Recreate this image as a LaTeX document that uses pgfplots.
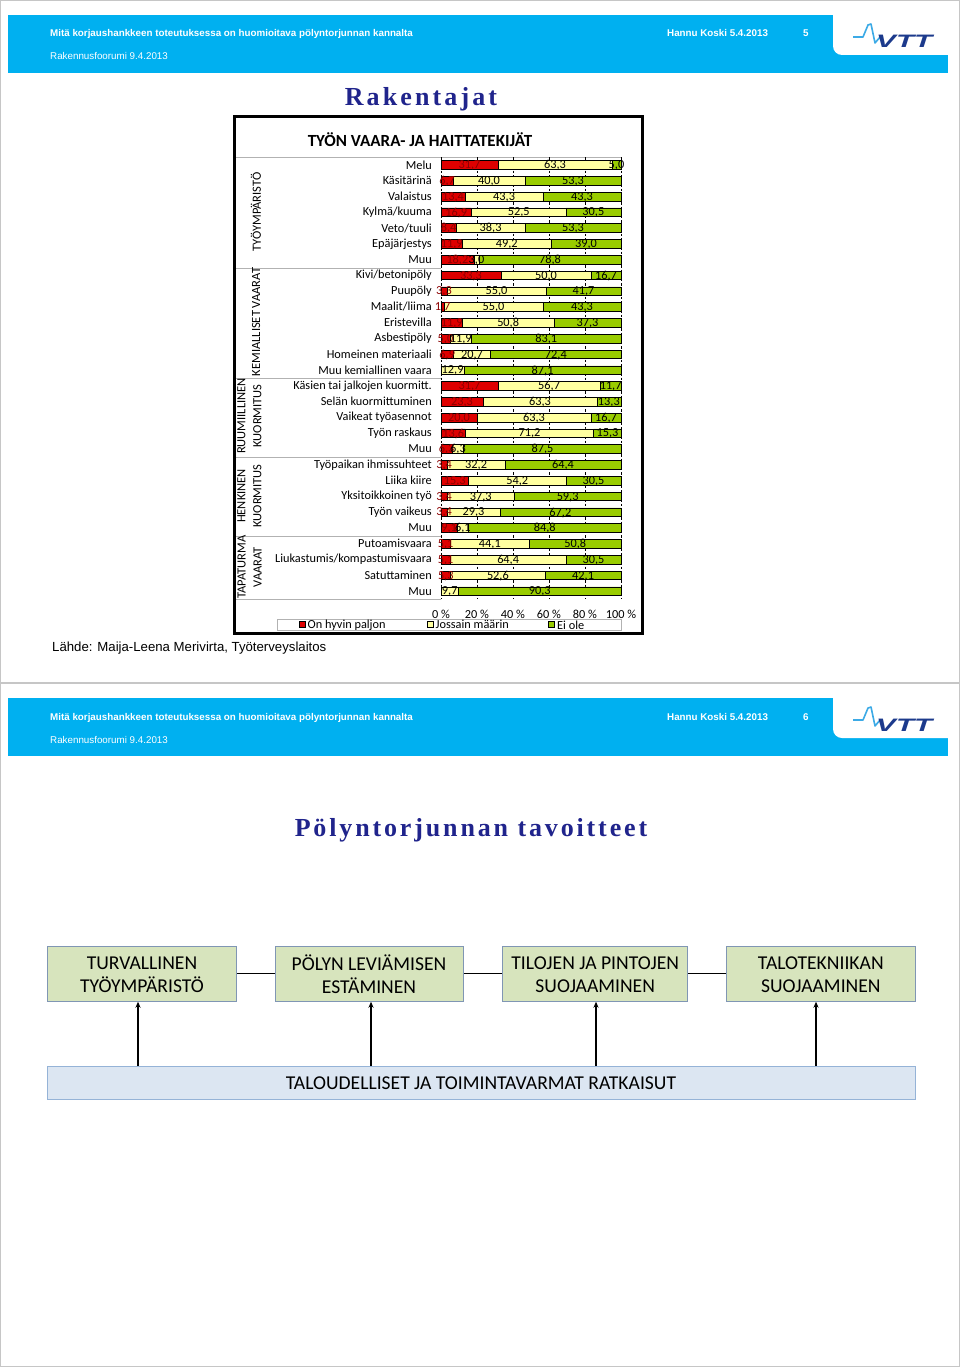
\documentclass[border=0pt]{standalone}
\usepackage{fontspec}
\setmainfont{Carlito}
\newfontfamily\arialf{Liberation Sans}
\newfontfamily\titlef{Liberation Serif}
\usepackage{pgfplots}
\pgfplotsset{compat=1.18}
\usepackage{pgfplotstable}
\usetikzlibrary{arrows.meta}

\definecolor{hdrblue}{RGB}{0,176,240}
\definecolor{navy}{RGB}{32,36,140}
\definecolor{barred}{RGB}{222,0,0}
\definecolor{baryel}{RGB}{255,255,160}
\definecolor{bargrn}{RGB}{153,204,0}
\definecolor{lblred}{RGB}{140,0,0}
\definecolor{boxgrn}{RGB}{215,228,189}
\definecolor{boxgrnline}{RGB}{128,150,180}
\definecolor{boxblue}{RGB}{220,230,242}
\definecolor{boxblueline}{RGB}{149,179,215}
\definecolor{vttdark}{RGB}{28,58,140}
\definecolor{vttlight}{RGB}{60,170,230}

\pgfplotstableread{
row r y g
1 31.7 63.3 5.0
2 6.7 40.0 53.3
3 13.4 43.3 43.3
4 16.9 52.5 30.5
5 8.4 38.3 53.3
6 11.9 49.2 39.0
7 18.2 3.0 78.8
8 33.3 50.0 16.7
9 3.3 55.0 41.7
10 1.7 55.0 43.3
11 11.9 50.8 37.3
12 5.0 11.9 83.1
13 6.9 20.7 72.4
14 0.0 12.9 87.1
15 31.7 56.7 11.7
16 23.3 63.3 13.3
17 20.0 63.3 16.7
18 13.6 71.2 15.3
19 6.3 6.3 87.5
20 3.4 32.2 64.4
21 15.3 54.2 30.5
22 3.4 37.3 59.3
23 3.4 29.3 67.2
24 9.1 6.1 84.8
25 5.1 44.1 50.8
26 5.1 64.4 30.5
27 5.3 52.6 42.1
28 0.0 9.7 90.3
}\data

\newcommand{\hdr}[3]{%
  \fill[hdrblue] (8pt,-#1pt) rectangle (948pt,-#1pt-58pt);
  \fill[white,rounded corners=9pt] (833pt,-#1pt+10pt) rectangle (958pt,-#1pt-40pt);
  \node[anchor=base west,text=white,font=\arialf\bfseries\fontsize{9.8}{10}\selectfont,inner sep=0] at (50pt,-#1pt-22pt) {Mitä korjaushankkeen toteutuksessa on huomioitava pölyntorjunnan kannalta};
  \node[anchor=base west,text=white,font=\arialf\fontsize{9.8}{10}\selectfont,inner sep=0] at (50pt,-#1pt-45pt) {Rakennusfoorumi 9.4.2013};
  \node[anchor=base west,text=white,font=\arialf\bfseries\fontsize{9.8}{10}\selectfont,inner sep=0] at (667pt,-#1pt-#3pt) {Hannu Koski 5.4.2013};
  \node[anchor=base west,text=white,font=\arialf\bfseries\fontsize{9.8}{10}\selectfont,inner sep=0] at (803pt,-#1pt-#3pt) {#2};
  \draw[vttlight,line width=1.6pt,line join=round] (853pt,-#1pt-22pt) -- (863pt,-#1pt-22pt) -- (868pt,-#1pt-10pt) -- (871pt,-#1pt-9pt) -- (875pt,-#1pt-28pt) -- (880pt,-#1pt-22pt);
  \node[anchor=base west,text=vttdark,font=\arialf\bfseries\itshape\fontsize{18}{18}\selectfont,inner sep=0] at (876pt,-#1pt-33pt) {\scalebox{1.65}[1]{VTT}};
}

\begin{document}
\begin{tikzpicture}[x=1pt,y=1pt]
\useasboundingbox (0pt,0pt) rectangle (960pt,-1367pt);
\fill[white] (0pt,0pt) rectangle (960pt,-1367pt);

% headers
\hdr{15}{5}{22}
\hdr{698}{6}{22}

\draw[gray!45,line width=1.2pt] (0.6pt,-0.6pt) rectangle (959.4pt,-1366.4pt);
\draw[gray!45,line width=1.2pt] (0pt,-683pt) -- (960pt,-683pt);

% slide 1 title
\node[text=navy,font=\titlef\bfseries\fontsize{26}{28}\selectfont\addfontfeatures{LetterSpace=12}] at (421pt,-99pt) {Rakentajat};

% chart frame
\draw[line width=3pt] (234pt,-116.5pt) rectangle (642pt,-633pt);
\node[font=\bfseries\fontsize{17}{19}\selectfont] at (420pt,-140pt) {TYÖN VAARA- JA HAITTATEKIJÄT};

% separators
\draw[gray!60,line width=0.7pt] (236pt,-157pt) -- (621pt,-157pt);
\foreach \yy in {268,378,457,536,599} \draw[gray!60,line width=0.7pt] (236pt,-\yy pt) -- (441pt,-\yy pt);

% group labels
\begin{scope}[every node/.style={font=\fontsize{12.5}{16}\selectfont,rotate=90,align=center,inner sep=0}]
\node at (256pt,-212pt) {TYÖYMPÄRISTÖ};
\node at (256pt,-322pt) {KEMIALLISET VAARAT};
\node at (249.5pt,-416pt) {RUUMIILLINEN\\KUORMITUS};
\node at (249.5pt,-496pt) {HENKINEN\\KUORMITUS};
\node at (249.5pt,-567pt) {TAPATURMA\\VAARAT};
\end{scope}

\begin{axis}[
  at={(441pt,-599pt)}, anchor=south west,
  scale only axis, width=180pt, height=442pt,
  xmin=0, xmax=100, ymin=0.5, ymax=28.5, y dir=reverse,
  xbar stacked, bar width=8.6pt,
  axis line style={draw=none},
  major tick length=0pt,
  xtick={0,20,...,100},
  xmajorgrids,
  major grid style={black,dash pattern=on 2.5pt off 2pt,line width=0.5pt},
  ytick={1,...,28},
  yticklabels={Melu,Käsitärinä,Valaistus,Kylmä/kuuma,Veto/tuuli,Epäjärjestys,Muu,Kivi/betonipöly,Puupöly,Maalit/liima,Eristevilla,Asbestipöly,Homeinen materiaali,Muu kemiallinen vaara,Käsien tai jalkojen kuormitt.,Selän kuormittuminen,Vaikeat työasennot,Työn raskaus,Muu,Työpaikan ihmissuhteet,Liika kiire,Yksitoikkoinen työ,Työn vaikeus,Muu,Putoamisvaara,Liukastumis/kompastumisvaara,Satuttaminen,Muu},
  yticklabel style={font=\fontsize{12.3}{13}\selectfont,anchor=east,inner sep=0pt,xshift=-9pt},
  xticklabel={\pgfmathprintnumber[assume math mode=true]{\tick}~\%},
  xticklabel style={font=\fontsize{12.3}{13}\selectfont,anchor=north,inner sep=0pt,yshift=-10.5pt},
  clip=false,
]
\addplot[fill=barred,draw=black,line width=0.5pt] table[x=r,y=row]{\data};
\addplot[fill=baryel,draw=black,line width=0.5pt] table[x=y,y=row]{\data};
\addplot[fill=bargrn,draw=black,line width=0.5pt] table[x=g,y=row]{\data};
\end{axis}

\begin{axis}[
  at={(441pt,-599pt)}, anchor=south west,
  scale only axis, width=180pt, height=442pt,
  xmin=0, xmax=100, ymin=0.5, ymax=28.5, y dir=reverse,
  hide axis, clip=false,
  point meta=explicit,
  nodes near coords={\pgfmathprintnumber[fixed,fixed zerofill,precision=1,use comma,assume math mode=true]{\pgfplotspointmeta}},
  nodes near coords align={center},
  every node near coord/.append style={font=\fontsize{12.3}{13}\selectfont,inner sep=0pt,anchor=center,yshift=-0.5pt},
]
\addplot[only marks,mark=none,restrict x to domain=0.01:200,every node near coord/.append style={text=lblred}] table[x expr=\thisrow{r}/2,y=row,meta=r]{\data};
\addplot[only marks,mark=none] table[x expr=\thisrow{r}+\thisrow{y}/2,y=row,meta=y]{\data};
\addplot[only marks,mark=none] table[x expr=\thisrow{r}+\thisrow{y}+\thisrow{g}/2,y=row,meta=g]{\data};
\end{axis}

% legend
\draw[gray!60,line width=0.6pt] (277pt,-619pt) rectangle (621pt,-630.5pt);
\begin{scope}[every node/.style={font=\fontsize{12.3}{13}\selectfont,anchor=west,inner sep=0}]
\filldraw[fill=barred,draw=black,line width=0.4pt] (299.5pt,-621.5pt) rectangle (305.5pt,-627.5pt);
\node at (307.5pt,-624.8pt) {On hyvin paljon};
\filldraw[fill=baryel,draw=black,line width=0.4pt] (427.5pt,-621.5pt) rectangle (433.5pt,-627.5pt);
\node at (435.5pt,-624.8pt) {Jossain määrin};
\filldraw[fill=bargrn,draw=black,line width=0.4pt] (548.5pt,-621.5pt) rectangle (554.5pt,-627.5pt);
\node at (557pt,-624.8pt) {Ei ole};
\end{scope}

\node[anchor=base west,inner sep=0,font=\arialf\fontsize{13.2}{15}\selectfont] at (52pt,-651.5pt) {Lähde: Maija-Leena Merivirta, Työterveyslaitos};

% slide 2
\node[text=navy,font=\titlef\bfseries\fontsize{26}{28}\selectfont\addfontfeatures{LetterSpace=11}] at (471pt,-830pt) {Pölyntorjunnan tavoitteet};

\begin{scope}[line width=1.3pt]
\draw (236.7pt,-973.5pt) -- (275pt,-973.5pt);
\draw (463pt,-973.5pt) -- (502.7pt,-973.5pt);
\draw (687.7pt,-973.5pt) -- (726.7pt,-973.5pt);
\foreach \ax in {138,371,596,816}
  \draw[-{Stealth[length=6pt,width=5pt]}] (\ax pt,-1066.7pt) -- (\ax pt,-1001.7pt);
\end{scope}

\begin{scope}[every node/.style={font=\fontsize{19.6}{23}\selectfont,align=center,inner sep=0}]
\filldraw[fill=boxgrn,draw=boxgrnline,line width=1pt] (47.3pt,-946.7pt) rectangle (236.7pt,-1001.7pt);
\node at (142pt,-974.5pt) {TURVALLINEN\\TYÖYMPÄRISTÖ};
\filldraw[fill=boxgrn,draw=boxgrnline,line width=1pt] (275pt,-946.7pt) rectangle (463pt,-1001.7pt);
\node at (369pt,-974.5pt) {PÖLYN LEVIÄMISEN\\ESTÄMINEN};
\filldraw[fill=boxgrn,draw=boxgrnline,line width=1pt] (502.7pt,-946.7pt) rectangle (687.7pt,-1001.7pt);
\node at (595.2pt,-974.5pt) {TILOJEN JA PINTOJEN\\SUOJAAMINEN};
\filldraw[fill=boxgrn,draw=boxgrnline,line width=1pt] (726.7pt,-946.7pt) rectangle (915pt,-1001.7pt);
\node at (820.8pt,-974.5pt) {TALOTEKNIIKAN\\SUOJAAMINEN};
\filldraw[fill=boxblue,draw=boxblueline,line width=1pt] (47.3pt,-1066.7pt) rectangle (915pt,-1099pt);
\node at (481pt,-1083pt) {TALOUDELLISET JA TOIMINTAVARMAT RATKAISUT};
\end{scope}
\end{tikzpicture}
\end{document}
